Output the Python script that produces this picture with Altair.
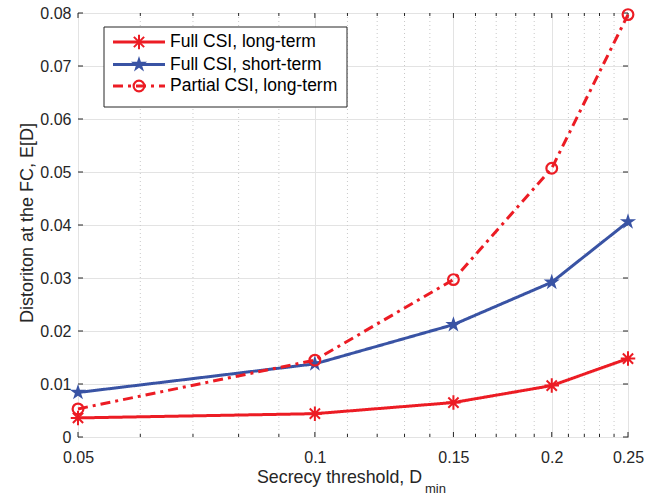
import altair as alt
import pandas as pd

# ---------------- data ----------------
x_values = [0.05, 0.10, 0.15, 0.20, 0.25]
full_csi_long = [0.0036, 0.0044, 0.0065, 0.0097, 0.0148]
full_csi_short = [0.0084, 0.0138, 0.0212, 0.0292, 0.0406]
partial_csi_long = [0.0053, 0.0145, 0.0297, 0.0507, 0.0797]
series_names = ["Full CSI, long-term", "Full CSI, short-term", "Partial CSI, long-term"]

x_major_ticks = [0.05, 0.1, 0.15, 0.2, 0.25]
x_minor_ticks = [0.06, 0.07, 0.08, 0.09, 0.11, 0.12, 0.13, 0.14,
                 0.16, 0.17, 0.18, 0.19, 0.21, 0.22, 0.23, 0.24]
y_ticks = [0, 0.01, 0.02, 0.03, 0.04, 0.05, 0.06, 0.07, 0.08]

x_title = "Secrecy threshold, D"
x_title_sub = "min"
y_title = "Distoriton at the FC, E[D]"

# ---------------- styling ----------------
W, H = 550, 424
RED = "#EC1C24"
BLUE = "#3953A4"
AX = "#262626"
FONT = "Liberation Sans"
ASTERISK = ("M0,-1L0,1M-1,0L1,0M-0.707,-0.707L0.707,0.707"
            "M-0.707,0.707L0.707,-0.707")
STAR = ("M0,-1L0.225,-0.309L0.951,-0.309L0.363,0.118L0.588,0.809L0,0.382"
        "L-0.588,0.809L-0.363,0.118L-0.951,-0.309L-0.225,-0.309Z")

xscale = alt.Scale(type="log", domain=[0.05, 0.25], nice=False)
yscale = alt.Scale(domain=[0, 0.08], nice=False)

X_AXIS = alt.Axis(values=x_major_ticks, format=".2~f", title=None, grid=True,
                  gridColor="#E3E3E3", gridWidth=1, ticks=False, tickSize=0,
                  domain=False, labelPadding=12, labelFontSize=16,
                  labelFont=FONT, labelColor=AX, labelFlush=False)
Y_AXIS = alt.Axis(values=y_ticks, format="~g", title=None, grid=True,
                  gridColor="#E3E3E3", gridWidth=1, ticks=False, tickSize=0,
                  domain=False, labelPadding=7, labelFontSize=16,
                  labelFont=FONT, labelColor=AX)


def X():
    return alt.X("x:Q", scale=xscale, axis=X_AXIS)


def Y():
    return alt.Y("y:Q", scale=yscale, axis=Y_AXIS)


styles = [
    dict(color=RED, dash=[1, 0], shape=ASTERISK, size=210, sw=2, filled=False),
    dict(color=BLUE, dash=[1, 0], shape=STAR, size=290, sw=1, filled=True),
    dict(color=RED, dash=[10, 5, 3, 5], shape="circle", size=115, sw=2.2, filled=False),
]
series_values = [full_csi_long, full_csi_short, partial_csi_long]


def marker(chart, st):
    return chart.mark_point(shape=st["shape"], size=st["size"], color=st["color"],
                            strokeWidth=st["sw"], filled=st["filled"], opacity=1)


# major grid + axis labels (invisible carrier)
axes_layer = alt.Chart(pd.DataFrame({"x": x_major_ticks, "y": [0.0] * 5})).mark_point(opacity=0).encode(
    x=X(), y=Y())

# minor dotted grid
minor_grid = alt.Chart(pd.DataFrame({"x": x_minor_ticks})).mark_rule(
    color="#C9C9C9", strokeDash=[1, 3], strokeWidth=1
).encode(x=X())

# inward ticks
xt_major = pd.DataFrame({"x": x_major_ticks})
xt_minor = pd.DataFrame({"x": x_minor_ticks})
yt = pd.DataFrame({"y": y_ticks})
tick_layers = [
    alt.Chart(xt_major).mark_rule(color=AX).encode(x=X(), y=alt.value(H), y2=alt.value(H - 5)),
    alt.Chart(xt_major).mark_rule(color=AX).encode(x=X(), y=alt.value(0), y2=alt.value(5)),
    alt.Chart(xt_minor).mark_rule(color=AX).encode(x=X(), y=alt.value(H), y2=alt.value(H - 3)),
    alt.Chart(xt_minor).mark_rule(color=AX).encode(x=X(), y=alt.value(0), y2=alt.value(3)),
    alt.Chart(yt).mark_rule(color=AX).encode(y=Y(), x=alt.value(0), x2=alt.value(5)),
    alt.Chart(yt).mark_rule(color=AX).encode(y=Y(), x=alt.value(W), x2=alt.value(W - 5)),
]

data_layers = []
for name, vals, st in zip(series_names, series_values, styles):
    df = pd.DataFrame({"x": x_values, "y": vals, "series": name})
    base = alt.Chart(df).encode(x=X(), y=Y())
    data_layers.append(base.mark_line(color=st["color"], strokeWidth=3, strokeDash=st["dash"]))
    data_layers.append(marker(base, st))

# legend
legend_layers = [
    alt.Chart(pd.DataFrame({"a": [0]})).mark_rect(fill="white", stroke=AX, strokeWidth=1).encode(
        x=alt.value(26), x2=alt.value(269), y=alt.value(14), y2=alt.value(94))
]
row_y = [29, 51.5, 73]
for name, st, ry in zip(series_names, styles, row_y):
    ldf = pd.DataFrame({"series": [name]})
    legend_layers.append(alt.Chart(ldf).mark_rule(color=st["color"], strokeWidth=3, strokeDash=st["dash"]).encode(
        x=alt.value(35), x2=alt.value(87), y=alt.value(ry)))
    legend_layers.append(marker(alt.Chart(ldf).encode(x=alt.value(61), y=alt.value(ry)), st))
    legend_layers.append(alt.Chart(ldf).mark_text(align="left", baseline="middle", font=FONT,
                                                  fontSize=17.5, color="black").encode(
        x=alt.value(92), y=alt.value(ry), text="series:N"))

# titles
tdf = pd.DataFrame({"t": [x_title], "s": [x_title_sub], "yt": [y_title]})
title_layers = [
    alt.Chart(tdf).mark_text(align="left", baseline="alphabetic", font=FONT, fontSize=17.8, color=AX).encode(
        x=alt.value(179), y=alt.value(470), text="t:N"),
    alt.Chart(tdf).mark_text(align="left", baseline="alphabetic", font=FONT, fontSize=13, color=AX).encode(
        x=alt.value(347), y=alt.value(480), text="s:N"),
    alt.Chart(tdf).mark_text(align="center", baseline="middle", angle=270, font=FONT, fontSize=18, color=AX).encode(
        x=alt.value(-50), y=alt.value(210), text="yt:N"),
]

chart = alt.layer(
    axes_layer, minor_grid, *tick_layers, *data_layers, *legend_layers, *title_layers
).properties(
    width=W, height=H,
    autosize=alt.AutoSizeParams(type="none"),
    padding={"left": 78, "top": 13, "right": 29, "bottom": 59},
    background="white",
).configure_view(stroke=AX, strokeWidth=1)

chart.save("out.html", embed_options={"renderer": "svg", "actions": False})
